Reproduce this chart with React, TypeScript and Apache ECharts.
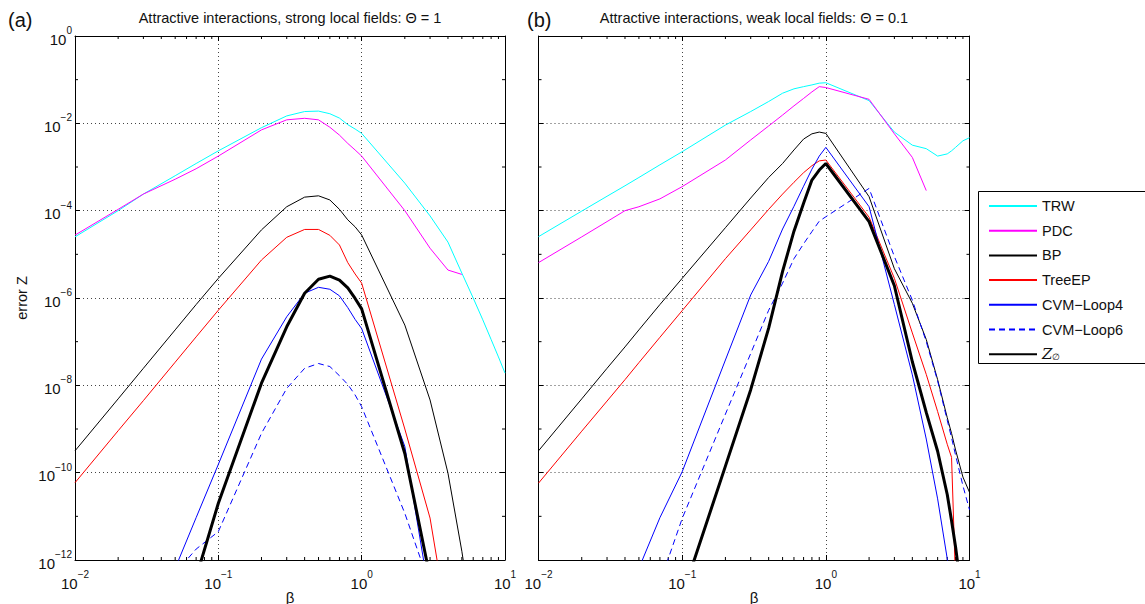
import React, { useEffect, useRef } from "react";
import * as echarts from "echarts";

// β sample points (x axis, log scale)
const betaA = [0.01, 0.02, 0.03, 0.05, 0.07, 0.1, 0.2, 0.3, 0.4, 0.5, 0.6, 0.7, 0.8, 0.9, 1, 2, 3, 4, 5, 6, 7, 8, 9, 10];
const betaB = [0.01, 0.02, 0.03, 0.04, 0.05, 0.07, 0.1, 0.2, 0.3, 0.4, 0.5, 0.6, 0.7, 0.8, 0.9, 1, 2, 3, 4, 5, 6, 7, 7.5, 8, 9, 10];

// log10(error Z): strong local fields, Θ = 1
const trwA = [-4.6, -4.0, -3.62, -3.2, -2.92, -2.63, -2.1, -1.83, -1.73, -1.72, -1.78, -1.88, -2.03, -2.13, -2.23, -3.37, -4.12, -4.72, -5.43, -6.0, -6.5, -6.95, -7.35, -7.72];
const pdcA = [-4.56, -3.97, -3.62, -3.28, -3.04, -2.75, -2.15, -1.92, -1.885, -1.92, -2.09, -2.27, -2.46, -2.61, -2.75, -4.0, -4.86, -5.36, -5.46, null, null, null, null, null];
const bpA = [-9.5, -8.31, -7.61, -6.73, -6.15, -5.55, -4.44, -3.91, -3.69, -3.66, -3.755, -3.97, -4.21, -4.37, -4.557, -6.62, -8.335, -10.01, -11.8, -13.5, null, null, null, null];
const treeA = [-10.23, -9.04, -8.35, -7.47, -6.89, -6.28, -5.13, -4.61, -4.43, -4.43, -4.565, -4.786, -5.19, -5.45, -5.66, -9.0, -11.04, -13.5, null, null, null, null, null, null];
const loop4A = [null, null, null, -12.19, -11.03, -9.81, -7.4, -6.43, -5.89, -5.755, -5.8, -5.95, -6.22, -6.49, -6.7, -9.4, -12.9, null, null, null, null, null, null, null];
const loop6A = [null, null, null, -12.3, -11.75, -11.35, -9.1, -8.07, -7.61, -7.5, -7.57, -7.78, -7.98, -8.22, -8.49, -10.93, -12.6, null, null, null, null, null, null, null];
const zA = [null, null, null, -14.0, -12.4, -10.7, -7.95, -6.66, -5.89, -5.57, -5.5, -5.59, -5.77, -6.01, -6.25, -9.56, -12.4, null, null, null, null, null, null, null];

// log10(error Z): weak local fields, Θ = 0.1
const trwB = [-4.595, -4.01, -3.67, -3.43, -3.24, -2.95, -2.65, -2.04, -1.73, -1.5, -1.31, -1.21, -1.16, -1.12, -1.08, -1.07, -1.48, -2.2, -2.5, -2.58, -2.75, -2.7, -2.63, -2.55, -2.4, -2.33];
const pdcB = [-5.19, -4.6, -4.25, -4.0, -3.91, -3.73, -3.45, -2.84, -2.38, -2.06, -1.81, -1.6, -1.43, -1.28, -1.16, -1.18, -1.45, -2.24, -2.78, -3.54, null, null, null, null, null, null];
const bpB = [-9.5, -8.31, -7.61, -7.12, -6.73, -6.15, -5.55, -4.39, -3.71, -3.24, -2.92, -2.61, -2.36, -2.24, -2.2, -2.23, -3.68, -5.33, -6.12, -6.95, -7.87, -8.74, -9.1, -9.48, -10.1, -10.45];
const treeB = [-10.24, -9.05, -8.36, -7.87, -7.48, -6.9, -6.29, -5.1, -4.44, -3.97, -3.62, -3.35, -3.13, -2.97, -2.86, -2.84, -4.15, -5.55, -6.8, -7.75, -8.6, -9.35, -9.65, -12.5, null, null];
const loop4B = [null, null, null, -13.0, -12.19, -11.03, -9.98, -7.42, -5.93, -5.16, -4.42, -3.9, -3.44, -3.05, -2.75, -2.55, -3.91, -6.15, -7.76, -9.23, -10.6, -11.97, -12.6, -13.2, null, null];
const loop6B = [null, null, null, null, null, -12.52, -11.05, -8.66, -7.27, -6.28, -5.66, -5.1, -4.76, -4.48, -4.24, -4.14, -3.49, -5.05, -6.05, -7.0, -7.9, -8.8, -9.2, -9.6, -10.3, -10.85];
const zB = [null, null, null, null, null, null, -12.83, -9.85, -8.1, -6.69, -5.39, -4.47, -3.83, -3.3, -3.07, -2.92, -4.25, -5.72, -7.46, -8.62, -9.51, -10.5, -11.1, -11.7, -13.0, null];

// axis ticks
const xMinorTicks = [0.02, 0.03, 0.04, 0.05, 0.06, 0.07, 0.08, 0.09, 0.2, 0.3, 0.4, 0.5, 0.6, 0.7, 0.8, 0.9, 2, 3, 4, 5, 6, 7, 8, 9];
const yOddDecades = [1e-1, 1e-3, 1e-5, 1e-7, 1e-9, 1e-11];

const seriesNames = ["TRW", "PDC", "BP", "TreeEP", "CVM\u2212Loop4", "CVM\u2212Loop6", "Z\u2205"];
const seriesColors = ["#00ffff", "#ff00ff", "#000000", "#ff0000", "#0000ff", "#0000ff", "#000000"];
const panelAData = [trwA, pdcA, bpA, treeA, loop4A, loop6A, zA];
const panelBData = [trwB, pdcB, bpB, treeB, loop4B, loop6B, zB];

const FONT = "'Liberation Sans', Arial, Helvetica, sans-serif";

function toPairs(beta: number[], logs: (number | null)[]) {
  const out: [number, number][] = [];
  beta.forEach((b, i) => {
    const l = logs[i];
    if (l !== null && l !== undefined) out.push([b, Math.pow(10, l)]);
  });
  return out;
}

function expLabel(v: number) {
  const e = Math.round(Math.log10(v));
  const s = e < 0 ? "\u2212" + -e : String(e);
  return "{b|10}{s|" + s + "}";
}

const labelRich = {
  b: { fontSize: 15, lineHeight: 21, verticalAlign: "bottom", fontFamily: FONT, color: "#111" },
  s: { fontSize: 10, lineHeight: 10, verticalAlign: "top", fontFamily: FONT, color: "#111" },
};

export default function App() {
  const ref = useRef<HTMLDivElement>(null);
  useEffect(() => {
    document.body.style.margin = "0";
    if (!ref.current) return;
    const chart = echarts.init(ref.current, undefined, { renderer: "svg" });

    const grids = [
      { left: 75, top: 36, width: 430, height: 524 },
      { left: 538.5, top: 36, width: 431, height: 524 },
    ];

    const xAxes: any[] = [];
    const yAxes: any[] = [];
    grids.forEach((_, gi) => {
      const common = {
        type: "log",
        logBase: 10,
        min: 0.01,
        max: 10,
        gridIndex: gi,
        axisLine: { show: true, onZero: false, lineStyle: { color: "#000", width: 1 } },
        axisTick: { show: true, inside: true, length: 5, lineStyle: { color: "#000" } },
      };
      xAxes.push({
        ...common,
        position: "bottom",
        axisLabel: { show: true, margin: 9.5, formatter: expLabel, rich: labelRich },
        splitLine: { show: true, lineStyle: { color: "#444", width: 1, type: [1, 3] } },
      });
      xAxes.push({
        ...common,
        position: "top",
        axisLabel: { show: false },
        splitLine: { show: false },
      });
      const ycommon = {
        type: "log",
        logBase: 10,
        min: 1e-12,
        max: 1,
        interval: 2,
        gridIndex: gi,
        axisLine: { show: true, onZero: false, lineStyle: { color: "#000", width: 1 } },
        axisTick: { show: true, inside: true, length: 5, lineStyle: { color: "#000" } },
      };
      yAxes.push({
        ...ycommon,
        position: "left",
        axisLabel: { show: gi === 0, margin: 3, formatter: expLabel, rich: labelRich },
        splitLine: { show: true, lineStyle: { color: "#444", width: 1, type: [1, 3] } },
      });
      yAxes.push({
        ...ycommon,
        position: "right",
        axisLabel: { show: false },
        splitLine: { show: false },
      });
    });

    const series: any[] = [];
    [panelAData, panelBData].forEach((panel, gi) => {
      const beta = gi === 0 ? betaA : betaB;
      panel.forEach((logs, si) => {
        const isZ = si === 6;
        series.push({
          type: "line",
          name: seriesNames[si],
          xAxisIndex: gi * 2,
          yAxisIndex: gi * 2,
          data: toPairs(beta, logs),
          symbol: "none",
          clip: true,
          z: isZ ? 5 : 3,
          lineStyle: {
            color: seriesColors[si],
            width: isZ ? 3 : 1,
            type: si === 5 ? [6, 4] : "solid",
          },
          itemStyle: { color: seriesColors[si] },
        });
      });
      // minor x ticks (bottom & top)
      series.push({
        type: "custom",
        xAxisIndex: gi * 2,
        yAxisIndex: gi * 2,
        silent: true,
        clip: false,
        data: xMinorTicks.map((v) => [v, 1e-6]),
        renderItem: (params: any, api: any) => {
          const x = api.coord([api.value(0), 1e-6])[0];
          const cs = params.coordSys;
          return {
            type: "group",
            children: [
              { type: "line", shape: { x1: x, y1: cs.y + cs.height, x2: x, y2: cs.y + cs.height - 3 }, style: { stroke: "#000", lineWidth: 1 } },
              { type: "line", shape: { x1: x, y1: cs.y, x2: x, y2: cs.y + 3 }, style: { stroke: "#000", lineWidth: 1 } },
            ],
          };
        },
      });
      // odd-decade y ticks (left & right)
      series.push({
        type: "custom",
        xAxisIndex: gi * 2,
        yAxisIndex: gi * 2,
        silent: true,
        clip: false,
        data: yOddDecades.map((v) => [0.1, v]),
        renderItem: (params: any, api: any) => {
          const y = api.coord([0.1, api.value(1)])[1];
          const cs = params.coordSys;
          return {
            type: "group",
            children: [
              { type: "line", shape: { x1: cs.x, y1: y, x2: cs.x + 3, y2: y }, style: { stroke: "#000", lineWidth: 1 } },
              { type: "line", shape: { x1: cs.x + cs.width, y1: y, x2: cs.x + cs.width - 3, y2: y }, style: { stroke: "#000", lineWidth: 1 } },
            ],
          };
        },
      });
    });

    const txt = (text: string, x: number, y: number, size: number, align = "center", extra: any = {}) => ({
      type: "text",
      x,
      y,
      silent: true,
      ...extra,
      style: { text, fontFamily: FONT, fontSize: size, fill: "#111", align, verticalAlign: "middle" },
    });

    chart.setOption({
      animation: false,
      backgroundColor: "#ffffff",
      grid: grids,
      xAxis: xAxes,
      yAxis: yAxes,
      series,
      legend: {
        orient: "vertical",
        left: 988,
        top: 198.5,
        padding: 0,
        itemWidth: 48,
        itemHeight: 14,
        itemGap: 9.7,
        selectedMode: false,
        data: seriesNames,
        itemStyle: { opacity: 0 },
        formatter: (n: string) => (n === "Z\u2205" ? "{z|Z}{s|\u2205}" : n),
        textStyle: {
          fontFamily: FONT,
          fontSize: 14.5,
          color: "#111",
          rich: {
            z: { fontFamily: "'DejaVu Serif', serif", fontStyle: "italic", fontSize: 15, color: "#111" },
            s: { fontSize: 9, verticalAlign: "bottom", fontFamily: FONT, color: "#111", padding: [6, 0, 0, 0] },
          },
        },
      },
      graphic: [
        { type: "rect", z: 0, silent: true, shape: { x: 978.5, y: 191.5, width: 200, height: 172 }, style: { fill: "#fff", stroke: "#000", lineWidth: 1 } },
        txt("(a)", 8, 20, 20, "left"),
        txt("(b)", 527, 20, 20, "left"),
        txt("Attractive interactions, strong local fields: \u0398 = 1", 290, 18, 14.5),
        txt("Attractive interactions, weak local fields: \u0398 = 0.1", 754, 18, 14.5),
        txt("\u03b2", 290, 597, 15),
        txt("\u03b2", 754, 597, 15),
        txt("error Z", 22, 298, 14.5, "center", { rotation: Math.PI / 2 }),
      ],
    });
    return () => chart.dispose();
  }, []);
  return <div ref={ref} style={{ width: 1145, height: 604 }} />;
}
